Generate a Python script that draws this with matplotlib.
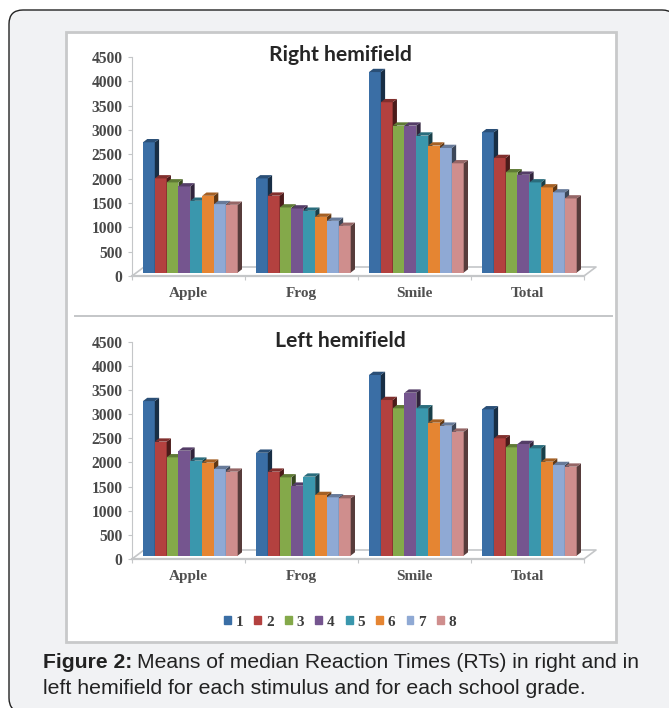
import numpy as np
import matplotlib
matplotlib.use("Agg")
import matplotlib.pyplot as plt
from matplotlib.patches import FancyBboxPatch, Rectangle, Polygon, Patch
from matplotlib.colors import to_rgb

W, H = 669, 708

categories = ["Apple", "Frog", "Smile", "Total"]
grades = ["1", "2", "3", "4", "5", "6", "7", "8"]
colors = ["#3a6ea5", "#b3413f", "#84a94a", "#75558f", "#3a97ad", "#e58532", "#8fa9d4", "#cf8e8d"]

right_apple = [2747, 2005, 1923, 1840, 1545, 1648, 1477, 1463]
right_frog = [2005, 1650, 1408, 1387, 1340, 1215, 1133, 1030]
right_smile = [4190, 3570, 3090, 3090, 2885, 2680, 2630, 2315]
right_total = [2953, 2424, 2130, 2080, 1923, 1820, 1717, 1593]

left_apple = [3270, 2430, 2105, 2243, 2036, 1995, 1863, 1808]
left_frog = [2200, 1808, 1690, 1518, 1705, 1325, 1277, 1256]
left_smile = [3810, 3292, 3120, 3444, 3120, 2823, 2760, 2636]
left_total = [3099, 2498, 2312, 2381, 2291, 2015, 1946, 1912]

yticks = [0, 500, 1000, 1500, 2000, 2500, 3000, 3500, 4000, 4500]

serif = "Liberation Serif"
grey = "#c4c6c8"


def darker(c, f):
    return tuple(v * f for v in to_rgb(c))


def draw_panel(fig, top, bottom, title, title_x, title_y, rows):
    ax = fig.add_axes([132 / W, 1 - bottom / H, 452 / W, (bottom - top) / H])
    ax.set_xlim(0, 4)
    ax.set_ylim(0, 4500)
    ax.patch.set_alpha(0)
    for s in ["top", "right"]:
        ax.spines[s].set_visible(False)
    ax.spines["left"].set_color(grey)
    ax.spines["bottom"].set_color(grey)
    ax.spines["bottom"].set_linewidth(1.6)
    ax.set_xticks([0, 1, 2, 3, 4])
    ax.set_xticklabels([])
    ax.set_xticks([0.5, 1.5, 2.5, 3.5], minor=True)
    ax.set_xticklabels(categories, minor=True, fontfamily=serif, fontweight="bold",
                       fontsize=11, color="#505050")
    ax.tick_params(axis="x", which="minor", length=0, pad=8)
    ax.tick_params(axis="x", which="major", length=3, direction="out", color=grey)
    ax.set_yticks(yticks)
    ax.set_yticklabels(yticks, fontfamily=serif, fontweight="bold", fontsize=11.2, color="#484848")
    ax.tick_params(axis="y", length=3, color=grey, pad=4)

    # floor of the 3D box
    scale = 4500 / (bottom - top)
    fx, fy = 12 / 113, 9 * scale
    ax.plot([0, fx, 4 + fx, 4], [0, fy, fy, 0], color=grey, lw=1.2, clip_on=False, zorder=1)

    base = 70
    w = 0.1048
    dx, dy = 4.3 / 113, 3.3 * scale
    for i, values in enumerate(rows):
        for j, v in enumerate(values):
            x = i + 0.097 + j * w
            c = colors[j]
            z = 3 + j
            ax.bar(x, v - base, w, bottom=base, align="edge", color=c, zorder=z, clip_on=False)
            ax.add_patch(Polygon([(x + w, base), (x + w + dx, base + dy), (x + w + dx, v + dy), (x + w, v)],
                                 closed=True, fc=darker(c, 0.42), ec="none", zorder=z, clip_on=False))
            ax.add_patch(Polygon([(x, v), (x + dx, v + dy), (x + w + dx, v + dy), (x + w, v)],
                                 closed=True, fc=darker(c, 0.72), ec="none", zorder=z, clip_on=False))
    fig.text(title_x / W, 1 - title_y / H, title, ha="center", va="center", fontfamily="Lato",
             fontweight="bold", fontsize=15.2, color="#262626")
    return ax


fig = plt.figure(figsize=(W / 100, H / 100), dpi=100, facecolor="white")

bg = fig.add_axes([0, 0, 1, 1])
bg.set_xlim(0, W)
bg.set_ylim(H, 0)
bg.axis("off")
bg.add_patch(FancyBboxPatch((9, 10), 667, 702, boxstyle="round,pad=0,rounding_size=14",
                            fc="#f1f2f4", ec="#222222", lw=1))
bg.add_patch(Rectangle((66, 32), 550, 610, fc="white", ec="#c8c9ca", lw=2))
bg.plot([75, 612], [316, 316], color="#c4c6c8", lw=1.4)

draw_panel(fig, 57, 276, "Right hemifield", 340, 55,
           [right_apple, right_frog, right_smile, right_total])
ax2 = draw_panel(fig, 341.7, 559, "Left hemifield", 340, 341,
                 [left_apple, left_frog, left_smile, left_total])

handles = [Patch(color=c, label=g) for c, g in zip(colors, grades)]
fig.legend(handles=handles, ncol=8, loc="center", bbox_to_anchor=(340 / W, 1 - 622 / H), frameon=False,
           prop={"family": serif, "weight": "bold", "size": 11}, handlelength=0.45, handleheight=0.45,
           handletextpad=0.3, columnspacing=0.745, labelcolor="#3c3c3c")

# caption
t = fig.text(43 / W, 1 - 662 / H, "Figure 2:", fontfamily="Liberation Sans", fontweight="bold",
             fontsize=15.2, va="center", color="#222222")
fig.canvas.draw()
x_end = t.get_window_extent().x1
fig.text((x_end + 5) / W, 1 - 662 / H, "Means of median Reaction Times (RTs) in right and in",
         fontfamily="Liberation Sans", fontsize=15.25, va="center", color="#222222")
fig.text(43 / W, 1 - 688 / H, "left hemifield for each stimulus and for each school grade.",
         fontfamily="Liberation Sans", fontsize=15.35, va="center", color="#222222")

fig.savefig("out.png", dpi=100)
